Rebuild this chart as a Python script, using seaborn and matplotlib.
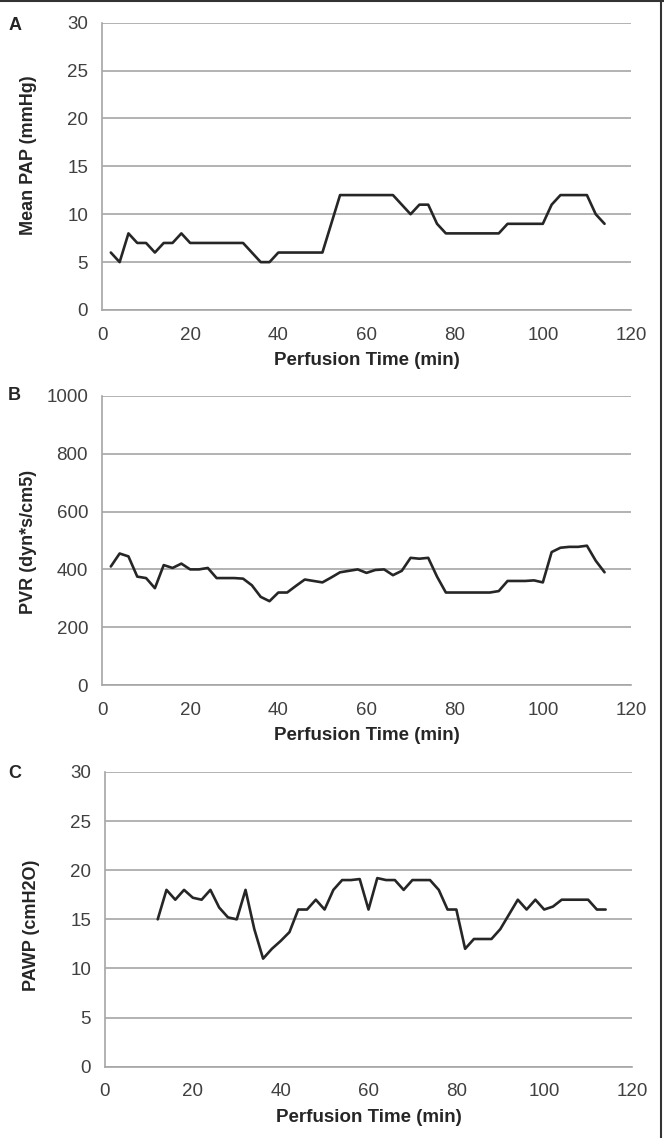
import numpy as np
import pandas as pd
import matplotlib
matplotlib.use("Agg")
import matplotlib.pyplot as plt
import seaborn as sns
from matplotlib.lines import Line2D

# ---------------- data ----------------
time_ab = list(range(2, 115, 2))
mean_pap = [6, 5, 8, 7, 7, 6, 7, 7, 8, 7, 7, 7, 7, 7, 7, 7, 6, 5, 5, 6, 6, 6, 6, 6, 6,
            9, 12, 12, 12, 12, 12, 12, 12, 11, 10, 11, 11, 9, 8, 8, 8, 8, 8, 8, 8,
            9, 9, 9, 9, 9, 11, 12, 12, 12, 12, 10, 9]
pvr = [410, 455, 445, 375, 370, 335, 415, 405, 420, 400, 400, 405, 370, 370, 370, 368,
       345, 305, 290, 320, 320, 343, 365, 360, 355, 372, 390, 395, 400, 388, 398, 400,
       380, 395, 440, 437, 440, 375, 320, 320, 320, 320, 320, 320, 325, 360, 360, 360,
       362, 355, 460, 475, 478, 478, 482, 430, 390]
time_c = list(range(12, 115, 2))
pawp = [15, 18, 17, 18, 17.2, 17, 18, 16.2, 15.2, 15, 18, 14, 11, 12, 12.8, 13.7, 16,
        16, 17, 16, 18, 19, 19, 19.1, 16, 19.2, 19, 19, 18, 19, 19, 19, 18, 16, 16, 12,
        13, 13, 13, 14, 15.5, 17, 16, 17, 16, 16.3, 17, 17, 17, 17, 16, 16]

x_ticks = [0, 20, 40, 60, 80, 100, 120]
panel_letters = ["A", "B", "C"]
y_labels = ["Mean PAP (mmHg)", "PVR (dyn*s/cm5)", "PAWP (cmH2O)"]
x_label = "Perfusion Time (min)"
y_limits = [(0, 30), (0, 1000), (0, 30)]
y_ticks = [list(range(0, 31, 5)), list(range(0, 1001, 200)), list(range(0, 31, 5))]

# ---------------- style ----------------
sns.set_theme(style="white")
plt.rcParams["font.family"] = ["Liberation Sans", "DejaVu Sans"]

W, H = 664, 1138
fig = plt.figure(figsize=(W / 100, H / 100), dpi=100)

grid_c = "#a6a6a6"
line_c = "#262626"
text_c = "#404040"

# axes rectangles in pixels: left, top, right, bottom
rects = [(102, 22.7, 631, 310), (102, 396, 631, 685), (105, 772, 632, 1066.7)]
ylab_y = [0.54, 0.495, 0.48]
letter_pos = [(15, 25), (14, 396), (15, 773)]

datasets = [
    pd.DataFrame({"time": time_ab, "value": mean_pap}),
    pd.DataFrame({"time": time_ab, "value": pvr}),
    pd.DataFrame({"time": time_c, "value": pawp}),
]

for i, (df, (l, t, r, b)) in enumerate(zip(datasets, rects)):
    ax = fig.add_axes([l / W, 1 - b / H, (r - l) / W, (b - t) / H])
    sns.lineplot(data=df, x="time", y="value", ax=ax, color=line_c, linewidth=1.9,
                 solid_joinstyle="round", solid_capstyle="round")
    ax.set_xlim(0, 120)
    ax.set_ylim(*y_limits[i])
    ax.set_xticks(x_ticks)
    ax.set_yticks(y_ticks[i])
    ax.yaxis.grid(True, color=grid_c, linewidth=1.2)
    ax.xaxis.grid(False)
    ax.set_axisbelow(True)
    for s in ["top", "right"]:
        ax.spines[s].set_visible(False)
    for s in ["left", "bottom"]:
        ax.spines[s].set_color(grid_c)
        ax.spines[s].set_linewidth(1.2)
    ax.tick_params(axis="both", which="major", direction="out", length=4, width=1.2,
                   color=grid_c, labelsize=13.5, labelcolor=text_c)
    ax.tick_params(axis="y", pad=6)
    ax.tick_params(axis="x", pad=8)
    ax.set_xlabel(x_label, fontsize=13.5, fontweight="bold", color="#262626", labelpad=6)
    ax.set_ylabel(y_labels[i], fontsize=13, fontweight="bold", color="#262626")
    ax.yaxis.set_label_coords(-0.122 * 529 / (r - l), ylab_y[i])
    lx, ly = letter_pos[i]
    fig.text(lx / W, 1 - ly / H, panel_letters[i], fontsize=13, fontweight="bold",
             color="#262626", ha="center", va="center")

# frame lines (top and right) of the original figure
fig.add_artist(Line2D([0, 1], [1 - 1 / H, 1 - 1 / H], color="#333333", linewidth=1.5,
                      transform=fig.transFigure))
fig.add_artist(Line2D([1 - 3 / W, 1 - 3 / W], [0, 1], color="#333333", linewidth=1.5,
                      transform=fig.transFigure))

fig.savefig("out.png", dpi=100)
